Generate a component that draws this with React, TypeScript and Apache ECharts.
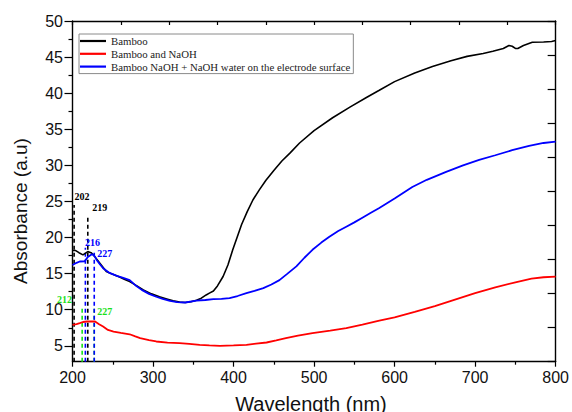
import React, { useEffect, useRef } from "react";
import * as echarts from "echarts";

// Absorbance spectra (wavelength in nm, absorbance in a.u.)
const bambooWl = [200, 204, 208, 213, 219, 223, 226, 234, 242, 250, 257, 265, 271, 280, 288, 298, 308, 317, 325, 333, 340, 347, 354, 360, 366, 370, 375, 380, 387, 393, 399, 405, 410, 417, 424, 432, 440, 450, 460, 470, 482, 500, 523, 545, 565, 581, 600, 625, 647, 670, 690, 710, 722, 735, 742, 746, 750, 753, 760, 771, 785, 795, 800];
const bambooAbs = [18.2, 18.2, 17.9, 17.6, 18.05, 17.9, 17.6, 16.45, 15.3, 14.9, 14.6, 14.2, 13.9, 13.3, 12.75, 12.2, 11.8, 11.5, 11.23, 11.05, 11.0, 11.1, 11.3, 11.6, 12.05, 12.3, 12.6, 13.3, 14.6, 16.2, 18.3, 20.2, 21.8, 23.6, 25.2, 26.6, 27.9, 29.3, 30.6, 31.7, 33.1, 34.8, 36.6, 38.1, 39.4, 40.4, 41.6, 42.8, 43.7, 44.5, 45.1, 45.5, 45.8, 46.2, 46.6, 46.5, 46.2, 46.2, 46.6, 47.05, 47.1, 47.15, 47.3];

const naohWl = [200, 205, 209, 213, 218, 224, 228, 233, 238, 244, 251, 260, 271, 278, 284, 295, 304, 318, 333, 345, 358, 370, 383, 400, 416, 428, 441, 453, 465, 480, 498, 520, 540, 560, 581, 600, 625, 650, 675, 700, 725, 750, 770, 785, 800];
const naohAbs = [7.9, 8.0, 8.14, 8.3, 8.37, 8.4, 8.37, 8.0, 7.67, 7.2, 6.98, 6.8, 6.6, 6.3, 6.06, 5.8, 5.6, 5.45, 5.37, 5.28, 5.14, 5.05, 5.0, 5.05, 5.14, 5.3, 5.46, 5.75, 6.06, 6.4, 6.76, 7.1, 7.45, 7.95, 8.5, 8.95, 9.7, 10.5, 11.4, 12.3, 13.1, 13.8, 14.3, 14.5, 14.6];

const electrodeWl = [200, 205, 209, 215, 219, 224, 227, 230, 234, 238, 246, 255, 263, 271, 278, 286, 295, 304, 312, 321, 330, 340, 354, 365, 375, 385, 395, 405, 416, 426, 437, 447, 457, 467, 478, 488, 498, 509, 519, 530, 540, 550, 560, 570, 581, 600, 622, 640, 664, 685, 705, 725, 746, 767, 785, 800];
const electrodeAbs = [16.2, 16.5, 16.68, 16.7, 17.3, 17.7, 17.5, 16.9, 16.3, 15.75, 15.1, 14.7, 14.4, 14.1, 13.4, 12.75, 12.2, 11.8, 11.5, 11.23, 11.05, 11.0, 11.27, 11.35, 11.46, 11.5, 11.6, 11.9, 12.3, 12.6, 13.0, 13.5, 14.1, 15.0, 16.0, 17.2, 18.3, 19.3, 20.1, 20.9, 21.5, 22.1, 22.75, 23.4, 24.1, 25.4, 27.0, 28.0, 29.1, 30.0, 30.75, 31.4, 32.1, 32.7, 33.1, 33.3];

// Peak markers: wavelength and the top of the dashed guide
const blackPeakWl = [202, 219];
const blackPeakTop = [24.5, 23.1];
const bluePeakWl = [216, 227];
const bluePeakTop = [18.6, 18.0];
const greenPeakWl = [212, 227];
const greenPeakTop = [10.3, 10.3];

const seriesNames = [
  "Bamboo",
  "Bamboo and NaOH",
  "Bamboo NaOH + NaOH water on the electrode surface",
];

const xTicks = [200, 300, 400, 500, 600, 700, 800];
const yMajor = [5, 10, 15, 20, 25, 30, 35, 40, 45, 50];
const yMinor = [7.5, 12.5, 17.5, 22.5, 27.5, 32.5, 37.5, 42.5, 47.5];

const Y_MIN = 2.8;
const Y_MAX = 50;

const SANS = "Liberation Sans, Arial, sans-serif";
const SERIF = "Liberation Serif, Times New Roman, serif";

const zip = (xs: number[], ys: number[]) => xs.map((x, i) => [x, ys[i]]);

type LabelPlace = { position: string; distance: number; offset: number[] };

function peakSeries(
  wl: number,
  top: number,
  color: string,
  place: LabelPlace,
  z: number
) {
  return {
    type: "line",
    data: [
      [wl, Y_MIN],
      {
        value: [wl, top],
        label: {
          show: true,
          formatter: String(wl),
          position: place.position,
          distance: place.distance,
          offset: place.offset,
          color,
          fontFamily: SERIF,
          fontWeight: "bold",
          fontSize: 10,
        },
      },
    ],
    symbol: "circle",
    symbolSize: 0.1,
    showSymbol: true,
    itemStyle: { color: "rgba(0,0,0,0)" },
    lineStyle: { color, width: 1.6, type: [4, 3] },
    clip: false,
    silent: true,
    z,
  };
}

export default function App() {
  const ref = useRef<HTMLDivElement>(null);

  useEffect(() => {
    if (!ref.current) return;
    const chart = echarts.init(ref.current, null, { renderer: "svg" });

    const blackPlaces: LabelPlace[] = [
      { position: "top", distance: 4, offset: [8, 0] },
      { position: "top", distance: 3, offset: [12, 0] },
    ];
    const bluePlaces: LabelPlace[] = [
      { position: "top", distance: 0, offset: [7, 0] },
      { position: "right", distance: 3, offset: [0, 2] },
    ];
    const greenPlaces: LabelPlace[] = [
      { position: "left", distance: 10, offset: [0, -8] },
      { position: "right", distance: 3, offset: [0, 4] },
    ];

    const peaks = [
      ...greenPeakWl.map((w, i) => peakSeries(w, greenPeakTop[i], "#19e019", greenPlaces[i], 2)),
      ...blackPeakWl.map((w, i) => peakSeries(w, blackPeakTop[i], "#000000", blackPlaces[i], 3)),
      ...bluePeakWl.map((w, i) => peakSeries(w, bluePeakTop[i], "#0000ff", bluePlaces[i], 4)),
    ];

    const axisLine = { show: true, lineStyle: { color: "#000", width: 1.4 } };

    chart.setOption({
      animation: false,
      backgroundColor: "#ffffff",
      grid: { left: 72.5, right: 15, top: 21, bottom: 50.3, containLabel: false },
      legend: {
        data: seriesNames,
        orient: "vertical",
        left: 79,
        top: 34,
        icon: "path://M0,0L26,0L26,2.2L0,2.2Z",
        itemWidth: 26,
        itemHeight: 11,
        itemGap: 0.8,
        padding: [1, 3, 1, 1],
        borderColor: "#8a8a8a",
        borderWidth: 1,
        textStyle: { fontFamily: SERIF, fontSize: 10.8, color: "#222", lineHeight: 12 },
      },
      xAxis: [
        {
          type: "value",
          min: 200,
          max: 800,
          interval: 100,
          position: "bottom",
          axisLine,
          axisTick: { show: true, inside: false, length: 5, lineStyle: { color: "#000", width: 1.2 } },
          minorTick: { show: true, splitNumber: 2, length: 3, lineStyle: { color: "#000", width: 1.2 } },
          axisLabel: {
            margin: 8,
            fontFamily: SANS,
            fontSize: 16,
            color: "#111",
            formatter: (v: number) => (xTicks.includes(v) ? String(v) : ""),
          },
          splitLine: { show: false },
        },
        {
          type: "value",
          min: 0,
          max: 10,
          interval: 1,
          position: "top",
          axisLine,
          axisTick: { show: true, inside: true, length: 4, lineStyle: { color: "#000", width: 1.2 } },
          axisLabel: { show: false },
          splitLine: { show: false },
        },
      ],
      yAxis: [
        {
          type: "value",
          min: Y_MIN,
          max: Y_MAX,
          position: "left",
          axisLine,
          axisTick: {
            show: true,
            inside: false,
            length: 8,
            customValues: yMajor,
            lineStyle: { color: "#000", width: 1.2 },
          },
          axisLabel: {
            margin: 9.5,
            fontFamily: SANS,
            fontSize: 16,
            color: "#111",
            customValues: yMajor,
          },
          splitLine: { show: false },
        },
        {
          type: "value",
          min: Y_MIN,
          max: Y_MAX,
          position: "left",
          axisLine: { show: false },
          axisTick: {
            show: true,
            inside: false,
            length: 4,
            customValues: yMinor,
            lineStyle: { color: "#000", width: 1.2 },
          },
          axisLabel: { show: false },
          splitLine: { show: false },
        },
        {
          type: "value",
          min: 0,
          max: 10,
          interval: 1,
          position: "right",
          axisLine,
          axisTick: { show: true, inside: true, length: 8, lineStyle: { color: "#000", width: 1.2 } },
          axisLabel: { show: false },
          splitLine: { show: false },
        },
      ],
      graphic: [
        {
          type: "text",
          x: 311,
          y: 404,
          style: {
            text: "Wavelength (nm)",
            font: `20px ${SANS}`,
            fill: "#111",
            textAlign: "center",
            textVerticalAlign: "middle",
          },
        },
        {
          type: "text",
          x: 20,
          y: 211,
          rotation: Math.PI / 2,
          style: {
            text: "Absorbance (a.u)",
            font: `19px ${SANS}`,
            fill: "#111",
            textAlign: "center",
            textVerticalAlign: "middle",
          },
        },
      ],
      series: [
        ...peaks,
        {
          name: seriesNames[0],
          type: "line",
          data: zip(bambooWl, bambooAbs),
          symbol: "none",
          lineStyle: { color: "#000000", width: 1.6 },
          itemStyle: { color: "#000000" },
          z: 5,
        },
        {
          name: seriesNames[1],
          type: "line",
          data: zip(naohWl, naohAbs),
          symbol: "none",
          lineStyle: { color: "#ff0000", width: 1.8 },
          itemStyle: { color: "#ff0000" },
          z: 5,
        },
        {
          name: seriesNames[2],
          type: "line",
          data: zip(electrodeWl, electrodeAbs),
          symbol: "none",
          lineStyle: { color: "#0000ff", width: 1.8 },
          itemStyle: { color: "#0000ff" },
          z: 5,
        },
      ],
    });

    return () => chart.dispose();
  }, []);

  return (
    <div
      ref={ref}
      style={{ position: "fixed", left: 0, top: 0, width: 572, height: 412, background: "#fff" }}
    />
  );
}
